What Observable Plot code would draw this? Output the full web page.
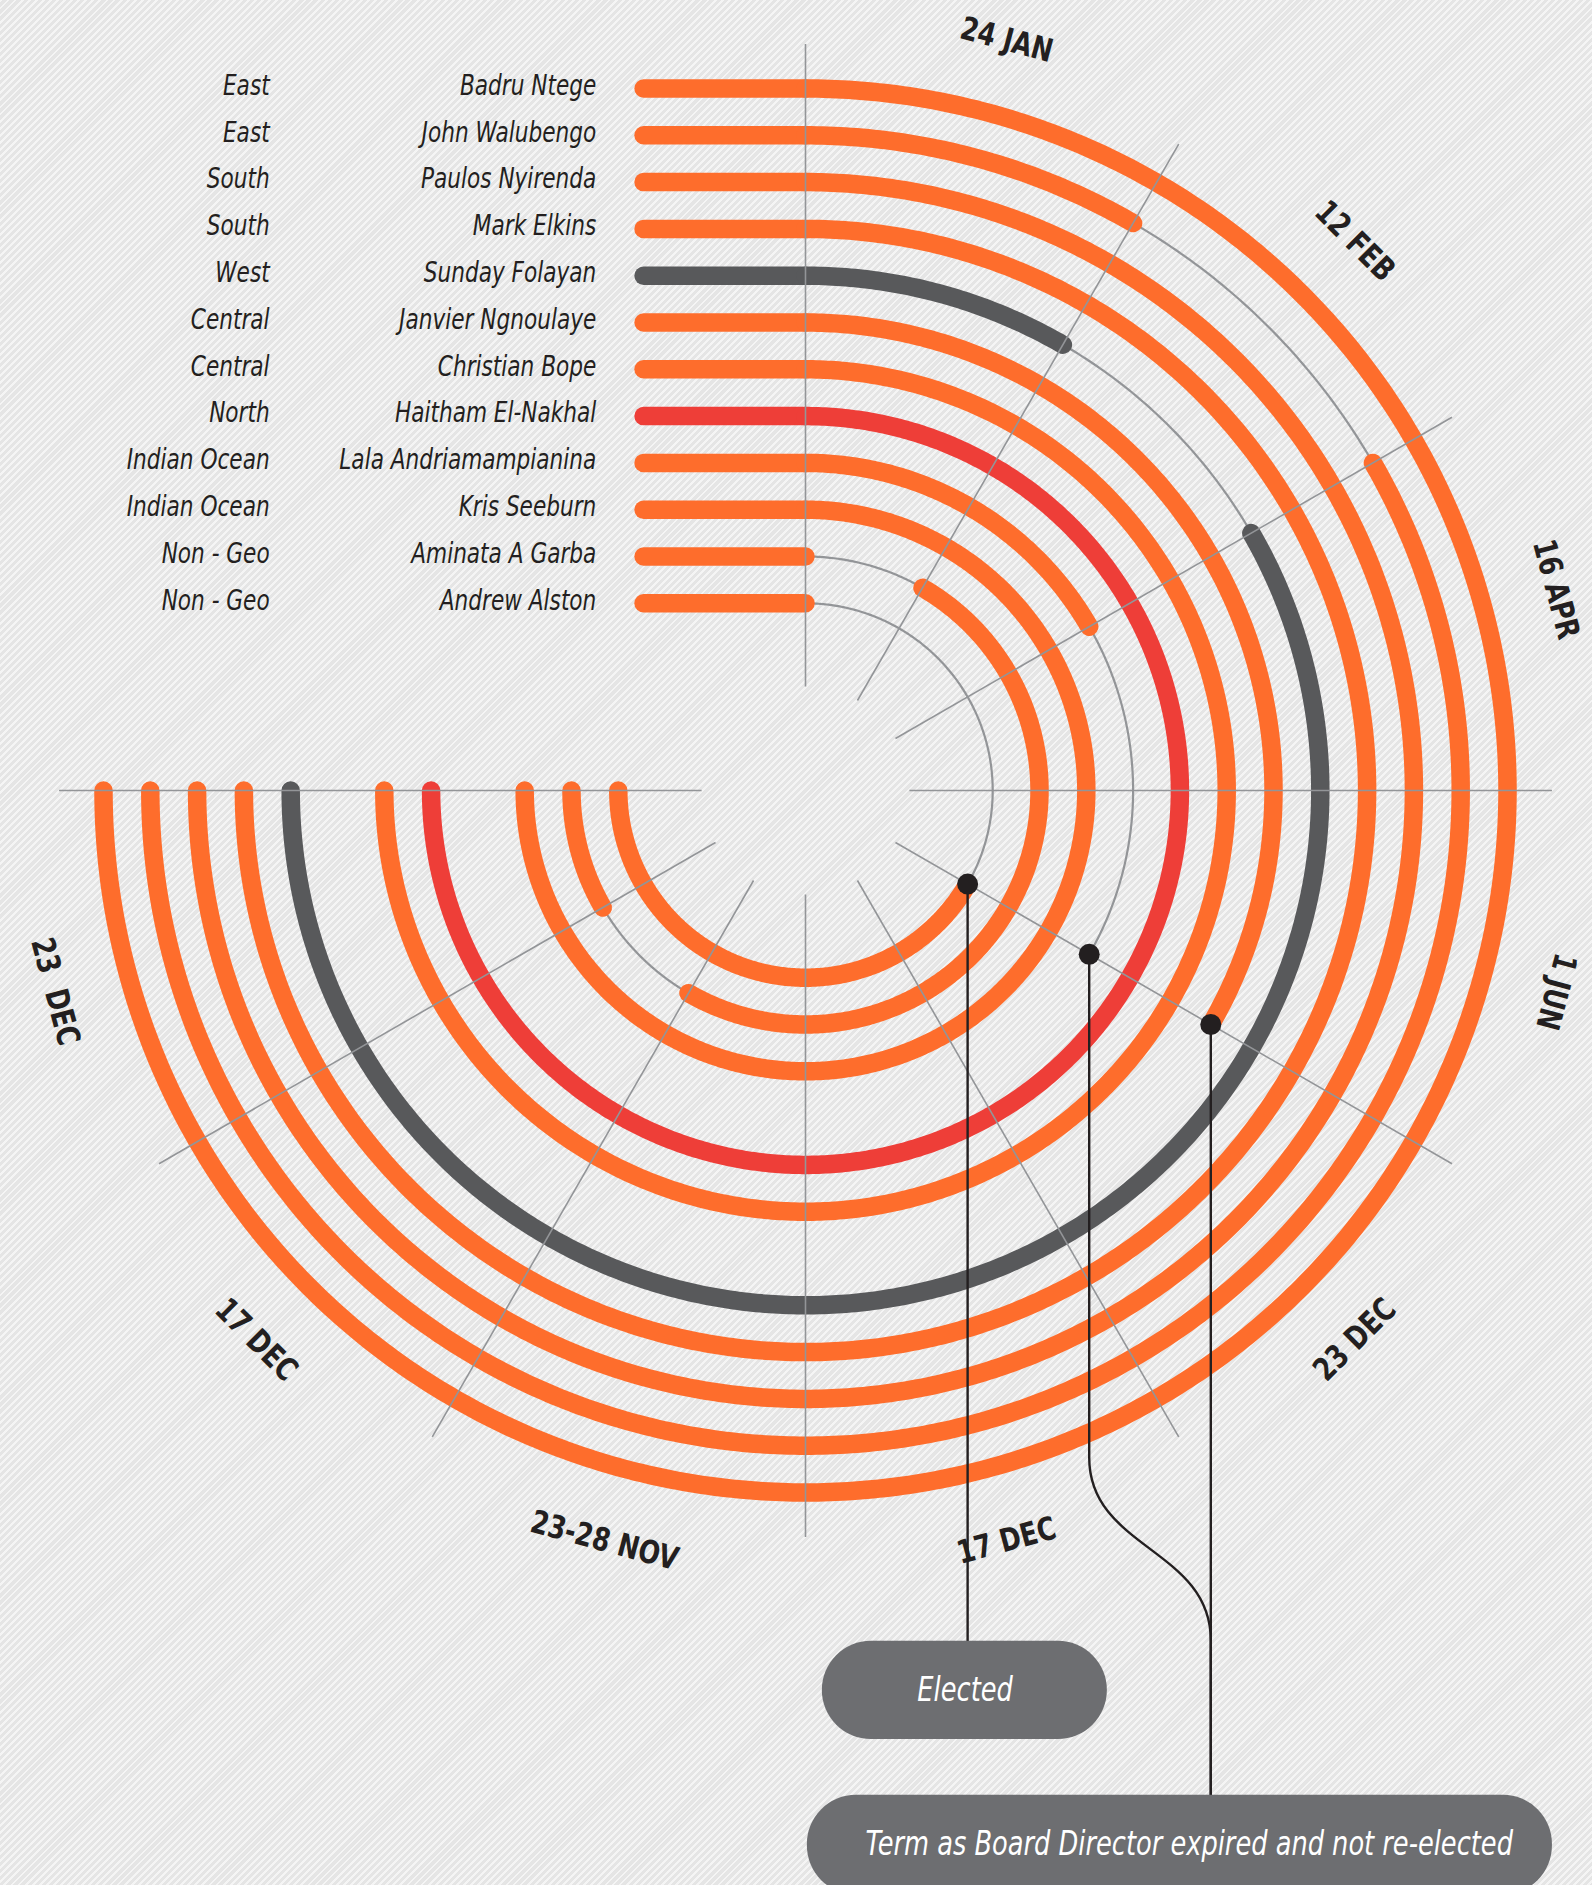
<!DOCTYPE html>
<html>
<head>
<meta charset="utf-8">
<script src="https://cdn.jsdelivr.net/npm/d3@7"></script>
<script src="https://cdn.jsdelivr.net/npm/@observablehq/plot@0.6"></script>
<style>
  html, body { margin: 0; padding: 0; }
  body {
    width: 1592px; height: 1885px; overflow: hidden;
    background-color: #ececec;
    background-image: repeating-linear-gradient(135deg, rgba(255,255,255,0.45) 0px, rgba(255,255,255,0.45) 2px, rgba(0,0,0,0.03) 2px, rgba(0,0,0,0.03) 5px);
  }
  #chart svg { display: block; }
</style>
</head>
<body>
<div id="chart"></div>
<script>
// ---------------- DATA ----------------
const regions = ["East", "East", "South", "South", "West", "Central", "Central", "North",
                 "Indian Ocean", "Indian Ocean", "Non - Geo", "Non - Geo"];
const names = ["Badru Ntege", "John Walubengo", "Paulos Nyirenda", "Mark Elkins", "Sunday Folayan",
               "Janvier Ngnoulaye", "Christian Bope", "Haitham El-Nakhal", "Lala Andriamampianina",
               "Kris Seeburn", "Aminata A Garba", "Andrew Alston"];
const groups = ["director", "director", "director", "director", "west", "director", "director", "north",
                "director", "director", "director", "director"];
// one 30° sector per board period, labelled with the meeting date
const periods = ["24 JAN", "12 FEB", "16 APR", "1 JUN", "23 DEC", "17 DEC", "23-28 NOV", "17 DEC", "23  DEC"];
// seated on the board: spans in period units (boundaries 0 … 9)
const seated = [
  [[0, 9]], [[0, 1], [2, 9]], [[0, 9]], [[0, 9]], [[0, 1], [2, 9]], [[0, 4]],
  [[0, 9]], [[0, 9]], [[0, 2]], [[0, 9]], [[1, 7], [8, 9]], [[4, 9]]
];
// not seated (thin line)
const vacant = [
  [], [[1, 2]], [], [], [[1, 2]], [], [], [], [[2, 4]], [], [[0, 1], [7, 8]], [[0, 4]]
];
// marked events
const eventNames = ["Andrew Alston", "Lala Andriamampianina", "Janvier Ngnoulaye"];
const eventPeriods = [4, 4, 4];
const eventTypes = ["elected", "expired", "expired"];
const calloutKeys = ["elected", "expired"];
const calloutTexts = ["Elected", "Term as Board Director expired and not re-elected"];

// ---------------- LAYOUT ----------------
const W = 1592, H = 1885, U = 46.8, CX = 805, CY = 790;   // U = px per ring step
const layout = {
  barStart: -3.46, nameRight: -4.47, regionRight: -11.45,
  gridInner: 2.22, gridOuter: 15.95, dateRadius: 16.6,
  curveStart: -14.25, curveEnd: -18.16,
  elected: {x1: 0.36, x2: 6.45, y1: -18.18, y2: -20.28, tx: 3.41, ty: -19.23},
  expired: {x1: 0.04, x2: 15.96, y1: -21.47, y2: -23.6, tx: 8.2, ty: -22.52}
};
const colors = {director: "#FE6D2C", west: "#58595B", north: "#EE3E38"};
const ink = "#231F20", rule = "#939598", boxFill = "#6D6E71";
const FONT = '"Liberation Sans Narrow", "Arial Narrow", "DejaVu Sans Condensed", sans-serif';
const narrow = [0.88, 0.84, 0.83, 0.83];   // horizontal condensing per text layer

// angle: clockwise from 12 o'clock, each period 30°
const angle = d3.scaleLinear().domain([0, periods.length]).range([0, 270]);
const radius = i => 15 - i;
const pol = (r, p) => {
  const a = angle(p) * Math.PI / 180;
  return {x: r * Math.sin(a), y: r * Math.cos(a)};
};
function arcPoints(i, span, key) {
  const [a, b] = span;
  const n = Math.max(2, Math.ceil((b - a) * 60));
  return d3.range(n + 1).map(k => ({...pol(radius(i), a + (b - a) * k / n), key, group: groups[i]}));
}

const seatedPts = names.flatMap((n, i) => seated[i].flatMap((s, j) => arcPoints(i, s, n + "-s" + j)));
const vacantPts = names.flatMap((n, i) => vacant[i].flatMap((s, j) => arcPoints(i, s, n + "-v" + j)));
const rows = names.map((name, i) => ({name, region: regions[i], group: groups[i], r: radius(i)}));

const events = eventNames.map((n, k) => {
  const i = names.indexOf(n);
  return {...pol(radius(i), eventPeriods[k]), type: eventTypes[k], name: n};
});
const expiredTargetX = d3.max(events.filter(e => e.type === "expired"), e => e.x);
const leaderPts = events.flatMap((e, k) => {
  const box = layout[e.type];
  if (e.type === "elected") return [{x: e.x, y: e.y, k}, {x: e.x, y: box.y1, k}];
  if (e.x === expiredTargetX) return [{x: e.x, y: e.y, k}, {x: e.x, y: box.y1, k}];
  return [{x: e.x, y: e.y, k}, {x: e.x, y: layout.curveStart, k},
          {x: expiredTargetX, y: layout.curveEnd, k}, {x: expiredTargetX, y: box.y1, k}];
});
const callouts = calloutKeys.map((key, k) => ({key, text: calloutTexts[k], ...layout[key]}));

// ---------------- CHART ----------------
const chart = Plot.plot({
  width: W, height: H, margin: 0,
  style: {background: "transparent", fontFamily: FONT},
  x: {domain: [-CX / U, (W - CX) / U], range: [0, W], axis: null},
  y: {domain: [-(H - CY) / U, CY / U], range: [H, 0], axis: null},
  color: {domain: Object.keys(colors), range: Object.values(colors)},
  marks: [
    // thin arcs: not seated
    Plot.line(vacantPts, {x: "x", y: "y", z: "key", stroke: rule, strokeWidth: 2.2, curve: "linear"}),
    // horizontal lead-in bars
    Plot.link(rows, {x1: () => layout.barStart, x2: () => 0, y1: "r", y2: "r",
      stroke: "group", strokeWidth: 18.5, strokeLinecap: "round"}),
    // thick arcs: seated
    Plot.line(seatedPts, {x: "x", y: "y", z: "key", stroke: "group", strokeWidth: 18.5,
      strokeLinecap: "round", strokeLinejoin: "round"}),
    // radial period boundaries
    Plot.link(d3.range(periods.length + 1), {
      x1: p => pol(layout.gridInner, p).x, y1: p => pol(layout.gridInner, p).y,
      x2: p => pol(layout.gridOuter, p).x, y2: p => pol(layout.gridOuter, p).y,
      stroke: rule, strokeWidth: 1.6}),
    // period labels
    Plot.text(periods, {
      x: (d, k) => pol(layout.dateRadius, k + 0.5).x,
      y: (d, k) => pol(layout.dateRadius, k + 0.5).y,
      text: d => d,
      rotate: (d, k) => { const a = angle(k + 0.5); return a > 120 ? a - 180 : a; },
      fontSize: 32, fontWeight: "bold", fill: ink, textAnchor: "middle", lineAnchor: "middle"}),
    // leaders
    Plot.line(leaderPts, {x: "x", y: "y", z: "k", curve: "bump-y", stroke: ink, strokeWidth: 2.4}),
    Plot.dot(events, {x: "x", y: "y", r: 10.5, fill: ink, stroke: "none"}),
    // callout boxes
    Plot.rect(callouts, {x1: "x1", x2: "x2", y1: "y1", y2: "y2", fill: boxFill, rx: 49, ry: 49}),
    Plot.text(callouts, {x: "tx", y: "ty", text: "text", fill: "white", fontSize: 34,
      fontStyle: "italic", textAnchor: "middle", lineAnchor: "middle"}),
    // row labels
    Plot.text(rows, {x: () => layout.nameRight, y: "r", text: "name", textAnchor: "end",
      fontSize: 29, fontStyle: "italic", fill: ink, lineAnchor: "middle", dy: -3}),
    Plot.text(rows, {x: () => layout.regionRight, y: "r", text: "region", textAnchor: "end",
      fontSize: 29, fontStyle: "italic", fill: ink, lineAnchor: "middle", dy: -3})
  ]
});
// condense the text horizontally (no condensed face installed)
chart.querySelectorAll('g[aria-label="text"]').forEach((g, gi) => {
  const s = narrow[gi] ?? 1;
  g.querySelectorAll("text").forEach(t => {
    const tr = t.getAttribute("transform") || "";
    t.setAttribute("transform", tr + ` scale(${s},1)`);
  });
});
document.getElementById("chart").append(chart);
</script>
</body>
</html>
